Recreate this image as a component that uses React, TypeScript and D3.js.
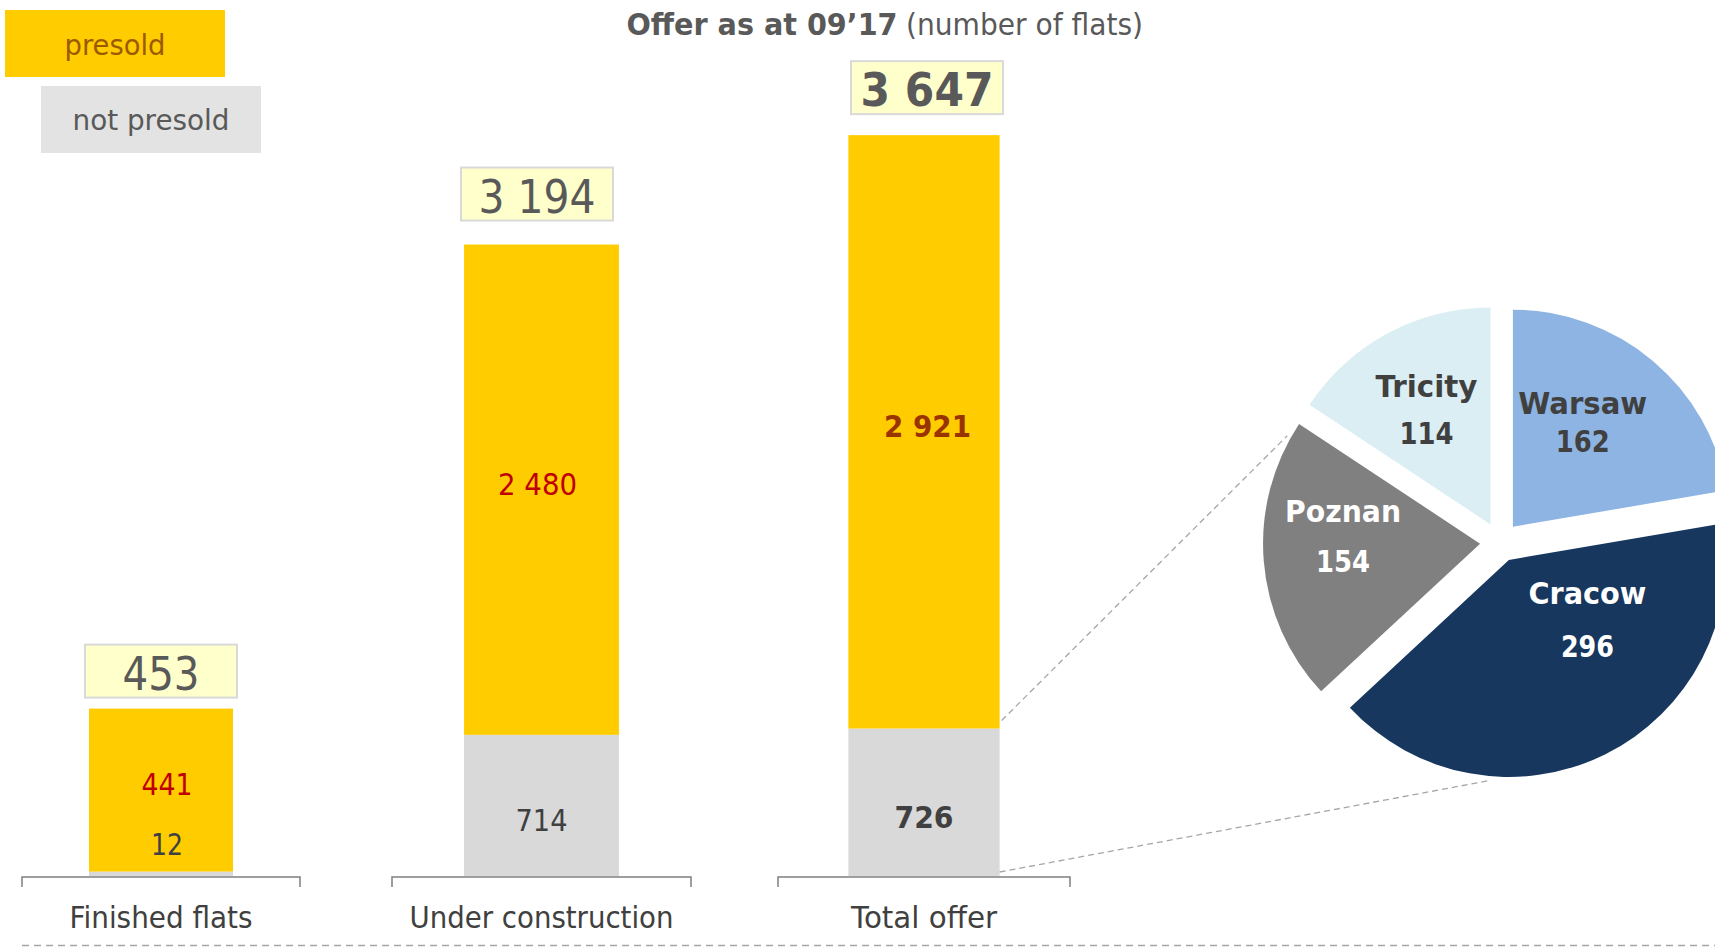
import React from "react";
import * as d3 from "d3";

// ---------- data ----------
const categories = ["Finished flats", "Under construction", "Total offer"];
const presold = [441, 2480, 2921];
const notPresold = [12, 714, 726];
const totals = [453, 3194, 3647];
const presoldLabels = ["441", "2 480", "2 921"];
const notPresoldLabels = ["12", "714", "726"];
const totalLabels = ["453", "3 194", "3 647"];

const cities = ["Warsaw", "Cracow", "Poznan", "Tricity"];
const cityValues = [162, 296, 154, 114];

const legendLabels = ["presold", "not presold"];
const titleBold = "Offer as at 09\u201917";
const titleNormal = "(number of flats)";

// ---------- layout / style ----------
const W = 1715;
const H = 947;
const FONT = "'DejaVu Sans', 'Noto Sans', sans-serif";
const YELLOW = "#ffcc00";
const GREY = "#d9d9d9";
const TXT = "#595959";
const DARK = "#404040";

const panelRange: [number, number][] = [[22, 300], [392, 691], [778, 1070]];
const axisMax = [2100, 3925, 3820]; // each bar is its own little chart
const baseY = 876;
const plotTop = 100;
const boxGap = [11, 24, 21];
const presoldDx = [6, -4, 3.5];
const notPresoldDx = [6, 0, 0];
const boxDx = [0, -4.5, 3];
const presoldColor = ["#c00000", "#c00000", "#993300"];
const boldPanel = [false, false, true];
const totalW = [77, 117, 133];
const presoldW = [51, 79, 87];
const notPresoldW = [32, 52, 59];
const categoryW = [183, 264, 146];

const pieColors = ["#8eb4e3", "#17375e", "#808080", "#dbeef4"];
const pieText = [DARK, "#ffffff", "#ffffff", DARK];
const pieCenter: [number, number] = [1500, 542];
const pieR = 217;
const explode = 20;
const labelR = 130;
const labelNudge = [
  { dx: -14, nameDy: -13.6, valueDy: 25.1 },
  { dx: 21, nameDy: -72.1, valueDy: -19.1 },
  { dx: -7.4, nameDy: -32.1, valueDy: 17.6 },
  { dx: -2.5, nameDy: -13.1, valueDy: 33.9 },
];
const nameW = [129, 118, 116, 102];
const valueW = [54, 53, 54, 54];

function Txt(props: {
  x: number;
  y: number;
  size: number;
  bold?: boolean;
  fill: string;
  anchor?: string;
  width?: number;
  children: React.ReactNode;
}) {
  const { x, y, size, bold, fill, anchor = "middle", width, children } = props;
  return (
    <text
      x={x}
      y={y}
      fontSize={size}
      fontWeight={bold ? "bold" : "normal"}
      fill={fill}
      textAnchor={anchor}
      fontFamily={FONT}
      textLength={width}
      lengthAdjust={width ? "spacingAndGlyphs" : undefined}
    >
      {children}
    </text>
  );
}

export default function App() {
  const rows = categories.map((c, i) => ({
    category: c,
    notPresold: notPresold[i],
    presold: presold[i],
  }));
  const stacked = d3.stack<any>().keys(["notPresold", "presold"])(rows);

  const panels = categories.map((c, i) => {
    const x = d3.scaleBand().domain([c]).range(panelRange[i]).padding(0.3175);
    const y = d3.scaleLinear().domain([0, axisMax[i]]).range([baseY, plotTop]);
    return { x, y };
  });

  // pie
  const pie = d3
    .pie<number>()
    .sort(null)
    .startAngle(0)
    .endAngle(2 * Math.PI)
    .value((d) => d);
  const arcs = pie(cityValues);
  const arcGen = d3.arc<any>().innerRadius(0).outerRadius(pieR);
  const offsetOf = (a: any): [number, number] => {
    const m = (a.startAngle + a.endAngle) / 2;
    return [pieCenter[0] + explode * Math.sin(m), pieCenter[1] - explode * Math.cos(m)];
  };

  // connectors from total bar's grey segment to the pie
  const p3 = panels[2];
  const bar3Right = (p3.x(categories[2]) as number) + p3.x.bandwidth();
  const greyTop3 = p3.y(notPresold[2]);
  const poz = arcs[2];
  const pozC = offsetOf(poz);
  const pozCorner: [number, number] = [
    pozC[0] + pieR * Math.sin(poz.endAngle),
    pozC[1] - pieR * Math.cos(poz.endAngle),
  ];
  const cra = arcs[1];
  const craC = offsetOf(cra);
  const craBottom: [number, number] = [craC[0], craC[1] + pieR];
  const lerp = (a: [number, number], b: [number, number], t: number) => [
    a[0] + (b[0] - a[0]) * t,
    a[1] + (b[1] - a[1]) * t,
  ];
  const up0: [number, number] = [bar3Right + 2, greyTop3 - 8];
  const up1 = lerp(up0, pozCorner, 0.96);
  const lo0: [number, number] = [bar3Right, baseY - 4];
  const lo1 = lerp(lo0, craBottom, 0.96);

  return (
    <svg
      width={W}
      height={H}
      style={{ position: "absolute", left: 0, top: 0, background: "#fff" }}
    >
      {/* title */}
      <Txt x={626.5} y={35} size={30} bold fill={TXT} anchor="start" width={271}>
        {titleBold}
      </Txt>
      <Txt x={906} y={35} size={30} fill={TXT} anchor="start" width={237}>
        {titleNormal}
      </Txt>

      {/* legend */}
      <rect x={5} y={10} width={220} height={67} fill={YELLOW} />
      <Txt x={115} y={55} size={29} fill="#9c5a00" width={101}>
        {legendLabels[0]}
      </Txt>
      <rect x={41} y={86} width={220} height={67} fill="#e3e3e3" />
      <Txt x={151} y={130} size={29} fill={TXT} width={157}>
        {legendLabels[1]}
      </Txt>

      {/* bars */}
      {categories.map((c, i) => {
        const { x, y } = panels[i];
        const bx = x(c) as number;
        const bw = x.bandwidth();
        const cx = bx + bw / 2;
        const [r0, r1] = panelRange[i];
        const gSeg = stacked[0][i];
        const ySeg = stacked[1][i];
        const gMid = (y(gSeg[0]) + y(gSeg[1])) / 2;
        const yMid = (y(ySeg[0]) + y(ySeg[1])) / 2;
        const gLabelY = Math.min(gMid + 26, baseY - 21);
        const top = y(totals[i]);
        const boxBottom = top - boxGap[i];
        const bcx = cx + boxDx[i];
        return (
          <g key={c}>
            <rect x={bx} y={y(gSeg[1])} width={bw} height={y(gSeg[0]) - y(gSeg[1])} fill={GREY} />
            <rect x={bx} y={y(ySeg[1])} width={bw} height={y(ySeg[0]) - y(ySeg[1])} fill={YELLOW} />
            <Txt x={cx + presoldDx[i]} y={yMid + 5} size={31} bold={boldPanel[i]} fill={presoldColor[i]} width={presoldW[i]}>
              {presoldLabels[i]}
            </Txt>
            <Txt x={cx + notPresoldDx[i]} y={gLabelY} size={31} bold={boldPanel[i]} fill={DARK} width={notPresoldW[i]}>
              {notPresoldLabels[i]}
            </Txt>
            <rect
              x={bcx - 76}
              y={boxBottom - 53}
              width={152}
              height={53}
              fill="#ffffcc"
              stroke="#d9d9d9"
              strokeWidth={2}
            />
            <Txt x={bcx} y={boxBottom - 8} size={47} bold={boldPanel[i]} fill={TXT} width={totalW[i]}>
              {totalLabels[i]}
            </Txt>
            <path
              d={`M${r0},887V877H${r1}V887`}
              fill="none"
              stroke="#7f7f7f"
              strokeWidth={1.5}
            />
            <Txt x={(r0 + r1) / 2} y={928} size={30} fill={DARK} width={categoryW[i]}>
              {c}
            </Txt>
          </g>
        );
      })}

      {/* connectors */}
      <line x1={up0[0]} y1={up0[1]} x2={up1[0]} y2={up1[1]} stroke="#a6a6a6" strokeWidth={1.3} strokeDasharray="6,4" />
      <line x1={lo0[0]} y1={lo0[1]} x2={lo1[0]} y2={lo1[1]} stroke="#a6a6a6" strokeWidth={1.3} strokeDasharray="6,4" />

      {/* pie */}
      {arcs.map((a, i) => {
        const [ox, oy] = offsetOf(a);
        const m = (a.startAngle + a.endAngle) / 2;
        const lx = ox + labelR * Math.sin(m) + labelNudge[i].dx;
        const ly = oy - labelR * Math.cos(m);
        return (
          <g key={cities[i]}>
            <path d={arcGen(a) as string} transform={`translate(${ox},${oy})`} fill={pieColors[i]} />
            <Txt x={lx} y={ly + labelNudge[i].nameDy} size={30} bold fill={pieText[i]} width={nameW[i]}>
              {cities[i]}
            </Txt>
            <Txt x={lx} y={ly + labelNudge[i].valueDy} size={30} bold fill={pieText[i]} width={valueW[i]}>
              {String(cityValues[i])}
            </Txt>
          </g>
        );
      })}

      {/* bottom dashed rule */}
      <line x1={22} y1={945.5} x2={W} y2={945.5} stroke="#a6a6a6" strokeWidth={1.5} strokeDasharray="7,5" />
    </svg>
  );
}
